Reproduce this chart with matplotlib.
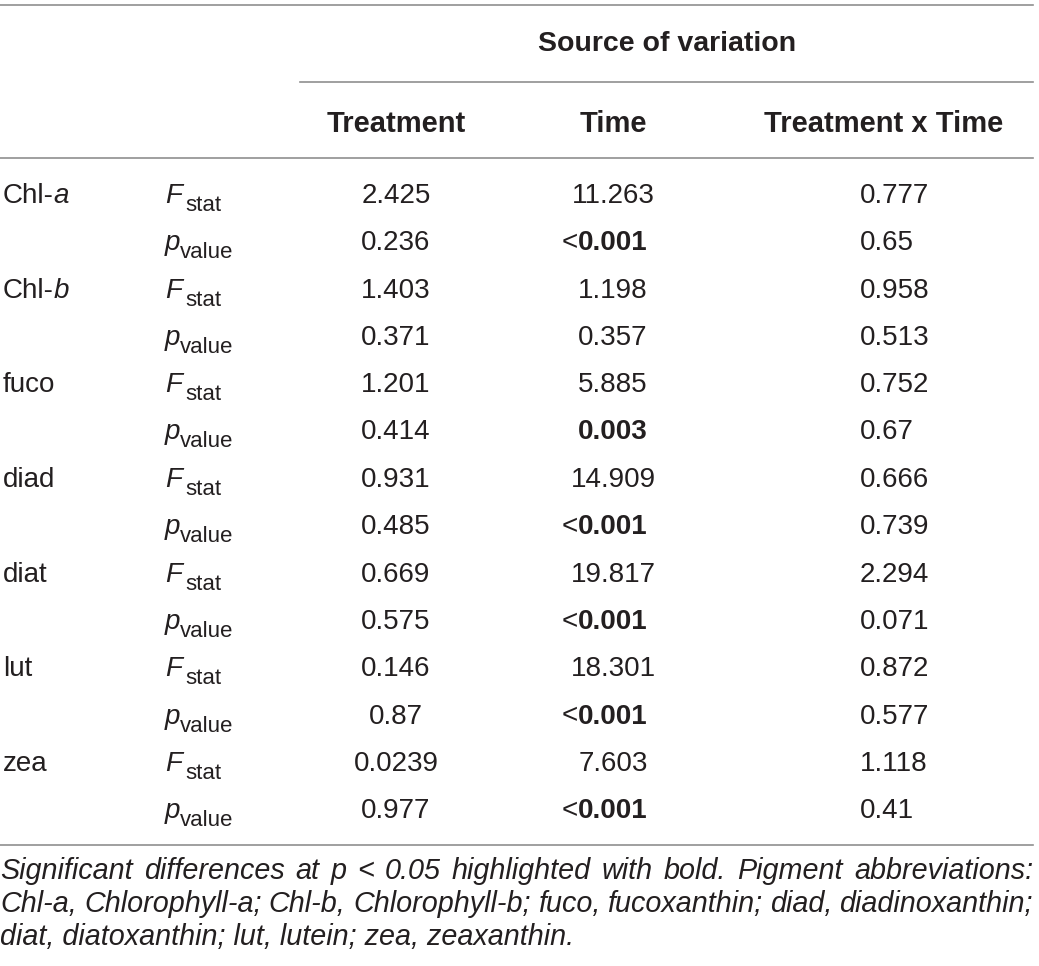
import matplotlib
matplotlib.use('Agg')
import matplotlib.pyplot as plt

plt.rcParams['font.family'] = ['Liberation Sans', 'DejaVu Sans']

# table contents
pigments = [('Chl-', 'a'), ('Chl-', 'b'), ('fuco', ''), ('diad', ''), ('diat', ''), ('lut', ''), ('zea', '')]
f_treat = ['2.425', '1.403', '1.201', '0.931', '0.669', '0.146', '0.0239']
p_treat = ['0.236', '0.371', '0.414', '0.485', '0.575', '0.87', '0.977']
f_time = ['11.263', '1.198', '5.885', '14.909', '19.817', '18.301', '7.603']
p_time = ['<0.001', '0.357', '0.003', '<0.001', '<0.001', '<0.001', '<0.001']
f_int = ['0.777', '0.958', '0.752', '0.666', '2.294', '0.872', '1.118']
p_int = ['0.65', '0.513', '0.67', '0.739', '0.071', '0.577', '0.41']
col_heads = ['Treatment', 'Time', 'Treatment x Time']
group_head = 'Source of variation'
footnote = [
    'Significant differences at p < 0.05 highlighted with bold. Pigment abbreviations:',
    'Chl-a, Chlorophyll-a; Chl-b, Chlorophyll-b; fuco, fucoxanthin; diad, diadinoxanthin;',
    'diat, diatoxanthin; lut, lutein; zea, zeaxanthin.',
]

W, H = 1039, 966
fig = plt.figure(figsize=(W / 100, H / 100), dpi=100)
ax = fig.add_axes([0, 0, 1, 1])
ax.set_xlim(0, W)
ax.set_ylim(H, 0)
ax.axis('off')
renderer = fig.canvas.get_renderer()

TXT = '#231f20'
LINE = '#8f8f8f'
FS = 20
RIGHT = 1033


def width_of(t):
    return t.get_window_extent(renderer).width


def pieces(x, y, parts, ha='left'):
    # parts: list of (text, kwargs, dy)
    objs = []
    for s, kw, dy in parts:
        objs.append(ax.text(0, y + dy, s, va='baseline', color=TXT, **kw))
    total = sum(width_of(t) for t in objs)
    if ha == 'center':
        x = x - total / 2
    for t in objs:
        t.set_x(x)
        x += width_of(t)


# rules
ax.plot([0, RIGHT], [5, 5], color=LINE, lw=1.2)
ax.plot([300, RIGHT], [82, 82], color=LINE, lw=1.2)
ax.plot([0, RIGHT], [158, 158], color=LINE, lw=1.2)
ax.plot([0, RIGHT], [845, 845], color=LINE, lw=1.2)

# headers
ax.text(667, 51, group_head, ha='center', va='baseline', fontsize=20.5, fontweight='bold', color=TXT)
for x, h in zip([396, 613, 884], col_heads):
    ax.text(x, 132, h, ha='center', va='baseline', fontsize=21, fontweight='bold', color=TXT)

# body
y0, step = 203, 94.7
for i in range(len(pigments)):
    yf = y0 + i * step
    yp = yf + 47
    name, it = pigments[i]
    pieces(3, yf, [(name, dict(fontsize=FS), 0), (it, dict(fontsize=FS, style='italic'), 0)])
    pieces(165, yf, [('F', dict(fontsize=FS, style='italic'), 0), (' ', dict(fontsize=8), 0),
                     ('stat', dict(fontsize=16), 8)])
    pieces(165, yp, [('p', dict(fontsize=FS, style='italic'), 0), ('value', dict(fontsize=16), 8)])

    ax.text(396, yf, f_treat[i], ha='center', va='baseline', fontsize=FS, color=TXT)
    ax.text(396, yp, p_treat[i], ha='center', va='baseline', fontsize=FS, color=TXT)
    ax.text(613, yf, f_time[i], ha='center', va='baseline', fontsize=FS, color=TXT)
    pv = p_time[i]
    if float(pv.lstrip('<')) < 0.05:
        if pv.startswith('<'):
            pieces(605, yp, [('<', dict(fontsize=FS), 0),
                             (pv[1:], dict(fontsize=FS, fontweight='bold'), 0)], ha='center')
        else:
            ax.text(613, yp, pv, ha='center', va='baseline', fontsize=FS, fontweight='bold', color=TXT)
    else:
        ax.text(613, yp, pv, ha='center', va='baseline', fontsize=FS, color=TXT)
    ax.text(860, yf, f_int[i], ha='left', va='baseline', fontsize=FS, color=TXT)
    ax.text(860, yp, p_int[i], ha='left', va='baseline', fontsize=FS, color=TXT)

# footnote: size the italic text so the first line nearly fills the width, then justify
probe = ax.text(0, 0, footnote[0], fontsize=17, style='italic')
nat = width_of(probe)
probe.remove()
FFS = 17 * (RIGHT - 30) / nat

fy = [879, 912, 945]
for k, line in enumerate(footnote):
    if k < 2:
        words = line.split(' ')
        ts = [ax.text(0, fy[k], w, va='baseline', fontsize=FFS, style='italic', color=TXT) for w in words]
        ws = [width_of(t) for t in ts]
        gap = (RIGHT - sum(ws)) / (len(words) - 1)
        x = 0
        for t, w in zip(ts, ws):
            t.set_x(x)
            x += w + gap
    else:
        ax.text(0, fy[k], line, va='baseline', fontsize=FFS, style='italic', color=TXT)

fig.savefig('out.png', dpi=100)
